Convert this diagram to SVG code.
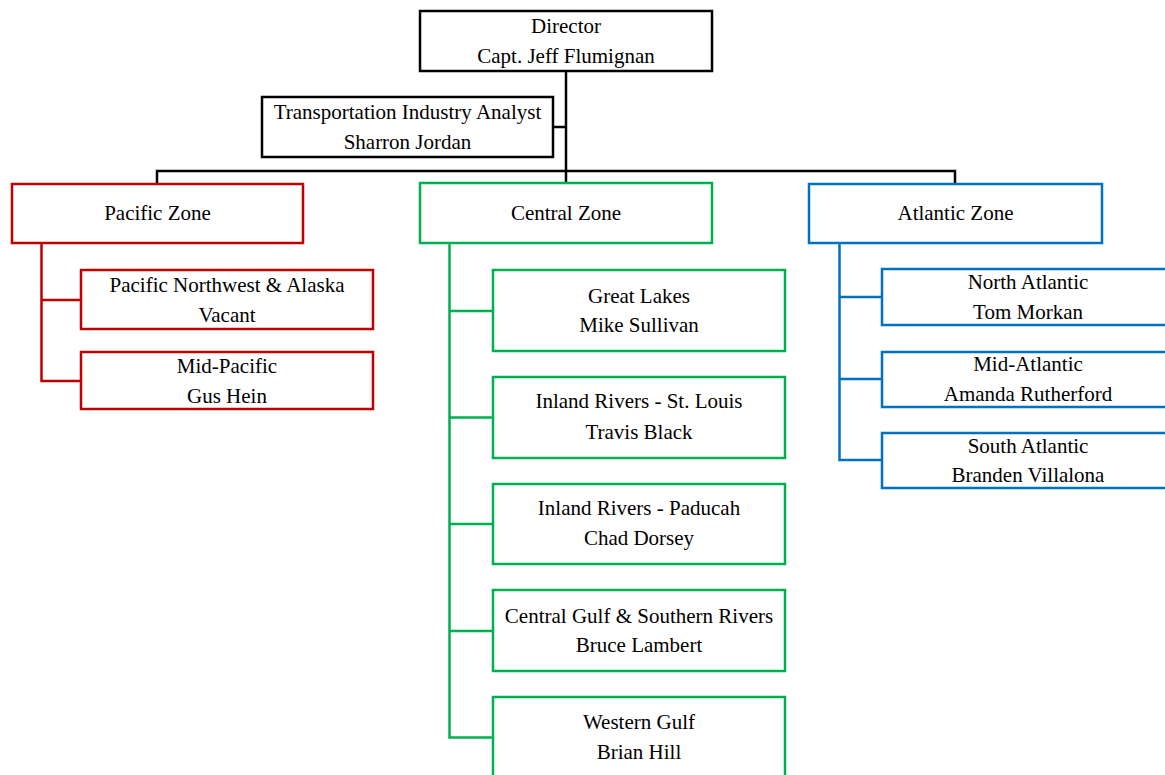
<svg xmlns="http://www.w3.org/2000/svg" width="1165" height="775" viewBox="0 0 1165 775">
<style>
text{font-family:'Liberation Serif','Tinos','Times New Roman','Times','Noto Serif','DejaVu Serif',serif;font-size:21px;fill:#000;text-anchor:middle}
rect{fill:#fff;stroke-width:2.5}
.k{stroke:#000}.r{stroke:#C00000}.g{stroke:#00B050}.b{stroke:#0070C0}
#connectors path{fill:none;stroke-width:2.5}
</style>
<rect x="0" y="0" width="1165" height="775" style="fill:#fff;stroke:none"/>
<g id="connectors">
<path class="k" d="M566 71V183M553 127H566M157 184V171H955V184"/>
<path class="r" d="M41.5 243V381H81M41.5 300H81"/>
<path class="g" d="M449.5 243V737.5H493M449.5 311H493M449.5 417.5H493M449.5 524H493M449.5 631H493"/>
<path class="b" d="M839.5 243V460H882M839.5 297H882M839.5 379H882"/>
</g>
<g id="director"><rect class="k" x="420" y="11" width="292" height="60"/><text x="566" y="32.5">Director</text><text x="566" y="63">Capt. Jeff Flumignan</text></g>
<g id="analyst"><rect class="k" x="262" y="97" width="291" height="60"/><text x="407.5" y="119">Transportation Industry Analyst</text><text x="407.5" y="148.5">Sharron Jordan</text></g>
<g id="pacific-zone"><rect class="r" x="12" y="184" width="291" height="59"/><text x="157.5" y="220">Pacific Zone</text></g>
<g id="central-zone"><rect class="g" x="420" y="183" width="292" height="60"/><text x="566" y="220">Central Zone</text></g>
<g id="atlantic-zone"><rect class="b" x="809" y="184" width="293" height="59"/><text x="955.5" y="220">Atlantic Zone</text></g>
<g id="pacific-nw"><rect class="r" x="81" y="270" width="292" height="59"/><text x="227" y="292">Pacific Northwest &amp; Alaska</text><text x="227" y="322">Vacant</text></g>
<g id="mid-pacific"><rect class="r" x="81" y="352" width="292" height="57"/><text x="227" y="373">Mid-Pacific</text><text x="227" y="402.5">Gus Hein</text></g>
<g id="great-lakes"><rect class="g" x="493" y="270" width="292" height="81"/><text x="639" y="302.5">Great Lakes</text><text x="639" y="332">Mike Sullivan</text></g>
<g id="inland-stlouis"><rect class="g" x="493" y="377" width="292" height="81"/><text x="639" y="408">Inland Rivers - St. Louis</text><text x="639" y="439">Travis Black</text></g>
<g id="inland-paducah"><rect class="g" x="493" y="484" width="292" height="80"/><text x="639" y="515">Inland Rivers - Paducah</text><text x="639" y="545">Chad Dorsey</text></g>
<g id="central-gulf"><rect class="g" x="493" y="590" width="292" height="81"/><text x="639" y="622.5">Central Gulf &amp; Southern Rivers</text><text x="639" y="652">Bruce Lambert</text></g>
<g id="western-gulf"><rect class="g" x="493" y="697" width="292" height="81"/><text x="639" y="728.5">Western Gulf</text><text x="639" y="758.5">Brian Hill</text></g>
<g id="north-atlantic"><rect class="b" x="882" y="269" width="292" height="56"/><text x="1028" y="289">North Atlantic</text><text x="1028" y="318.5">Tom Morkan</text></g>
<g id="mid-atlantic"><rect class="b" x="882" y="352" width="292" height="55"/><text x="1028" y="370.5">Mid-Atlantic</text><text x="1028" y="400.5">Amanda Rutherford</text></g>
<g id="south-atlantic"><rect class="b" x="882" y="433" width="292" height="55"/><text x="1028" y="453">South Atlantic</text><text x="1028" y="482">Branden Villalona</text></g>
</svg>
